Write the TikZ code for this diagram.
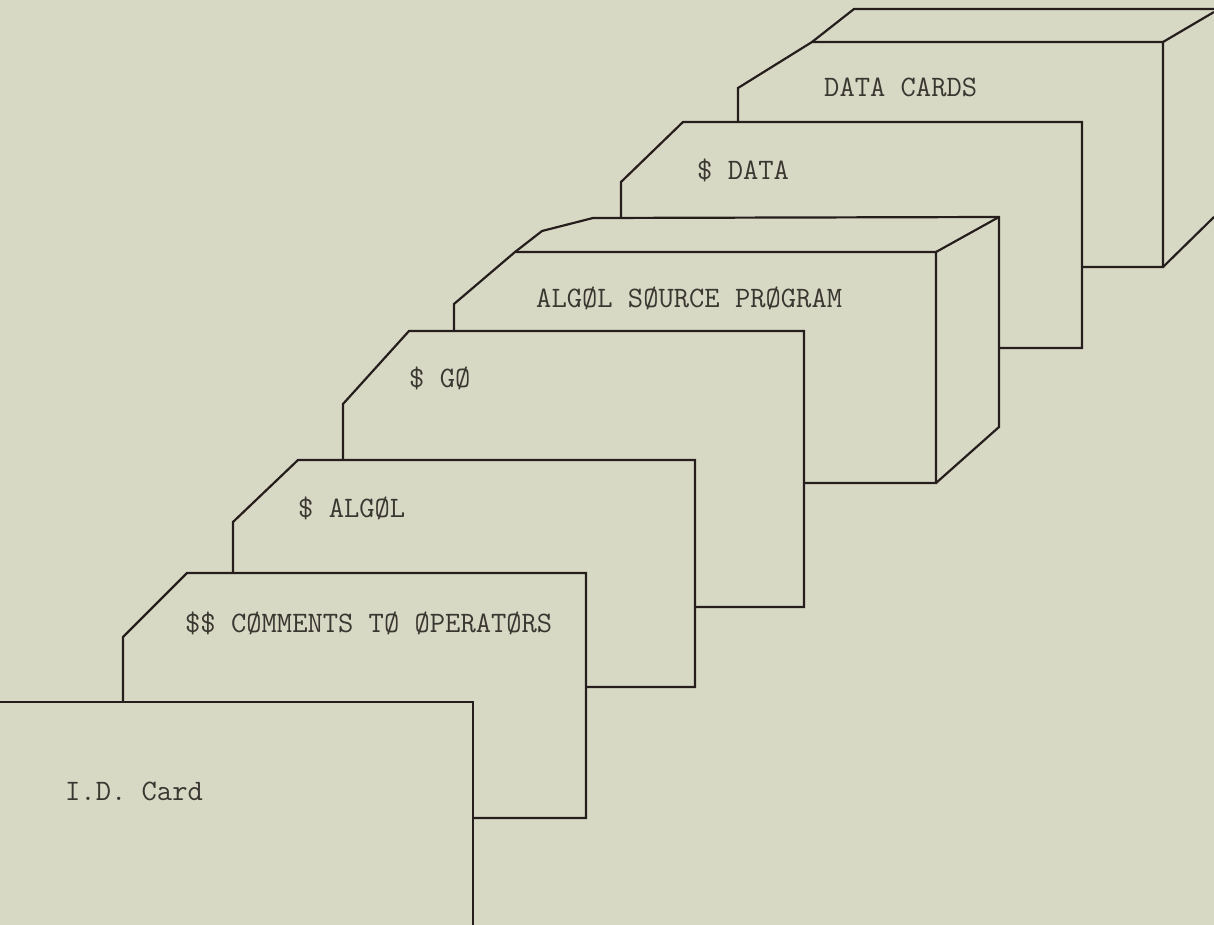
\documentclass[tikz,border=0pt]{standalone}
\definecolor{paper}{RGB}{216,217,197}
\definecolor{ink}{RGB}{38,30,28}
\definecolor{typeink}{RGB}{58,54,48}
\begin{document}
\begin{tikzpicture}[x=1pt,y=-1pt,
  edge/.style={draw=ink,line width=2.2pt,line join=miter,line cap=butt},
  label/.style={anchor=base west,inner sep=0pt,text=typeink,font=\ttfamily\fontsize{29.7}{32}\selectfont}]
\fill[paper] (0,0) rectangle (1214,925);
\useasboundingbox (0,0) rectangle (1214,925);
% 7. DATA CARDS (box)
\draw[edge] (738,122) -- (738,88) -- (812,42) -- (1163,42) -- (1163,267) -- (1082,267);
\draw[edge] (812,42) -- (854,9) -- (1214,9);
\draw[edge] (1163,42) -- (1214,12);
\draw[edge] (1163,267) -- (1214,217);
\node[label] (datacards) at (824,97) {DATA CARDS};
% 6. $ DATA
\draw[edge] (621,218) -- (621,182) -- (683,122) -- (1082,122) -- (1082,348) -- (999,348);
\node[label] (data) at (697,180) {\$ DATA};
% 5. ALGOL SOURCE PROGRAM (box)
\draw[edge] (454,331) -- (454,304) -- (515,252) -- (936,252) -- (936,483) -- (804,483);
\draw[edge] (515,252) -- (542,231) -- (593,218) -- (999,217) -- (999,427) -- (936,483);
\draw[edge] (936,252) -- (999,217);
\node[label] (source) at (536,307) {ALGØL SØURCE PRØGRAM};
% 4. $ GO
\draw[edge] (343,460) -- (343,404) -- (409,331) -- (804,331) -- (804,607) -- (695,607);
\node[label] (go) at (409,387) {\$ GØ};
% 3. $ ALGOL
\draw[edge] (233,573) -- (233,522) -- (298,460) -- (695,460) -- (695,687) -- (586,687);
\node[label] (algol) at (298,517) {\$ ALGØL};
% 2. $$ COMMENTS TO OPERATORS
\draw[edge] (123,702) -- (123,637) -- (187,573) -- (586,573) -- (586,818) -- (473,818);
\node[label] (comments) at (185,632) {\$\$ CØMMENTS TØ ØPERATØRS};
% 1. I.D. Card
\draw[edge] (0,702) -- (473,702) -- (473,925);
\node[label] (idcard) at (65,800) {I.D. Card};
\end{tikzpicture}
\end{document}
